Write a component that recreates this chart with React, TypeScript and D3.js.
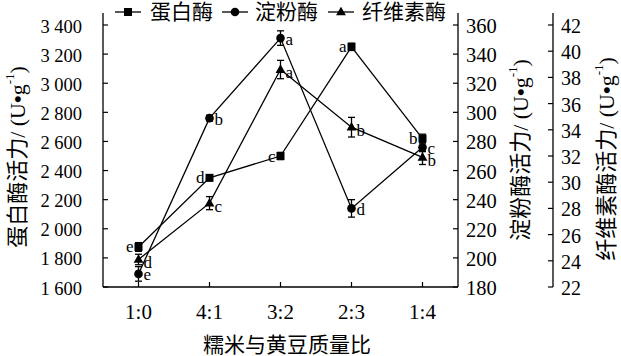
import React from "react";
import * as d3 from "d3";

const categories = ["1:0", "4:1", "3:2", "2:3", "1:4"];
const proteaseValues = [1875, 2350, 2500, 3250, 2620];
const proteaseErrors = [30, 20, 25, 25, 30];
const proteaseLetters = ["e", "d", "c", "a", "b"];
const amylaseValues = [189, 296, 351, 234, 276];
const amylaseErrors = [5, 2, 5, 6, 3];
const amylaseLetters = ["e", "b", "a", "d", "c"];
const cellulaseValues = [24.1, 28.4, 38.6, 34.2, 31.9];
const cellulaseErrors = [0.4, 0.5, 0.7, 0.75, 0.55];
const cellulaseLetters = ["d", "c", "a", "b", "b"];
const leftTicks = [1600, 1800, 2000, 2200, 2400, 2600, 2800, 3000, 3200, 3400];
const amylaseTicks = [180, 200, 220, 240, 260, 280, 300, 320, 340, 360];
const cellulaseTicks = [22, 24, 26, 28, 30, 32, 34, 36, 38, 40, 42];
const seriesNames = ["蛋白酶", "淀粉酶", "纤维素酶"];
const xTitle = "糯米与黄豆质量比";
const yTitles = ["蛋白酶活力", "淀粉酶活力", "纤维素酶活力"];

const FONT = "'Liberation Serif', 'Noto Sans CJK SC', serif";
const TOP = 13, BOTTOM = 287, LEFT = 103, RIGHT = 458, THIRD = 553;

const x = d3.scaleBand<string>().domain(categories).range([LEFT, RIGHT]).padding(0);
const cx = (c: string) => (x(c) as number) + x.bandwidth() / 2;
const yL = d3.scaleLinear().domain([1600, 3400]).range([BOTTOM, 25]);
const yS = d3.scaleLinear().domain([180, 360]).range([BOTTOM, 25]);
const yC = d3.scaleLinear().domain([22, 42]).range([BOTTOM, 25]);

const fmtLeft = (v: number) => d3.format(",")(v).replace(",", " ");

function Marker({ type, px, py }: { type: string; px: number; py: number }) {
  if (type === "square") return <rect x={px - 4} y={py - 4} width={8} height={8} fill="#000" />;
  if (type === "circle") return <circle cx={px} cy={py} r={4.3} fill="#000" />;
  const tri = d3.symbol().type(d3.symbolTriangle).size(42)();
  return <path d={tri as string} transform={`translate(${px},${py + 0.5})`} fill="#000" />;
}

function Series({ values, errors, letters, y, type, anchor, dx, dy }: any) {
  const line = d3.line<number>().x((_, i) => cx(categories[i])).y((v) => y(v));
  return (
    <g>
      <path d={line(values) as string} fill="none" stroke="#000" strokeWidth={1.3} />
      {values.map((v: number, i: number) => {
        const px = cx(categories[i]);
        const top = y(v + errors[i]);
        const bot = y(v - errors[i]);
        return (
          <g key={i}>
            <line x1={px} x2={px} y1={top} y2={bot} stroke="#000" strokeWidth={1.3} />
            <line x1={px - 3.5} x2={px + 3.5} y1={top} y2={top} stroke="#000" strokeWidth={1.3} />
            <line x1={px - 3.5} x2={px + 3.5} y1={bot} y2={bot} stroke="#000" strokeWidth={1.3} />
            <Marker type={type} px={px} py={y(v)} />
            <text x={px + dx} y={y(v) + dy} textAnchor={anchor} dominantBaseline="central"
              fontFamily={FONT} fontSize={17}>{letters[i]}</text>
          </g>
        );
      })}
    </g>
  );
}

function YTitle({ label, tx, ty }: { label: string; tx: number; ty: number }) {
  return (
    <text transform={`translate(${tx},${ty}) rotate(-90)`} textAnchor="middle" dominantBaseline="central"
      fontFamily={FONT} fontSize={22}>
      <tspan>{label}/ (U</tspan>
      <tspan fontWeight="bold">•</tspan>
      <tspan>g</tspan>
      <tspan dy={-8} fontSize={13}>-1</tspan>
      <tspan dy={8}>)</tspan>
    </text>
  );
}

export default function App() {
  const legend = [
    { type: "square", lx: 115, tx: 150 },
    { type: "circle", lx: 222, tx: 255 },
    { type: "triangle", lx: 328, tx: 362 },
  ];
  return (
    <svg width={621} height={356} style={{ position: "absolute", left: 0, top: 0, background: "#fff" }}>
      <rect width={621} height={356} fill="#fff" />
      <line x1={LEFT} x2={LEFT} y1={TOP} y2={BOTTOM} stroke="#000" strokeWidth={1.3} />
      <line x1={LEFT} x2={RIGHT} y1={BOTTOM} y2={BOTTOM} stroke="#000" strokeWidth={1.3} />
      <line x1={RIGHT} x2={RIGHT} y1={TOP} y2={BOTTOM} stroke="#000" strokeWidth={1.3} />
      <line x1={THIRD} x2={THIRD} y1={TOP} y2={BOTTOM} stroke="#000" strokeWidth={1.3} />
      {leftTicks.map((t) => (
        <g key={"l" + t}>
          <line x1={LEFT} x2={LEFT + 5} y1={yL(t)} y2={yL(t)} stroke="#000" strokeWidth={1.2} />
          <text x={82} y={yL(t) + 1.5} textAnchor="end" dominantBaseline="central" fontFamily={FONT} fontSize={18.5}>
            {fmtLeft(t)}
          </text>
        </g>
      ))}
      {amylaseTicks.map((t) => (
        <g key={"s" + t}>
          <line x1={RIGHT - 5} x2={RIGHT} y1={yS(t)} y2={yS(t)} stroke="#000" strokeWidth={1.2} />
          <text x={466} y={yS(t) + 1} textAnchor="start" dominantBaseline="central" fontFamily={FONT} fontSize={20.5}>
            {t}
          </text>
        </g>
      ))}
      {cellulaseTicks.map((t) => (
        <g key={"c" + t}>
          <line x1={THIRD - 5} x2={THIRD} y1={yC(t)} y2={yC(t)} stroke="#000" strokeWidth={1.2} />
          <text x={561} y={yC(t) + 1} textAnchor="start" dominantBaseline="central" fontFamily={FONT} fontSize={20}>
            {t}
          </text>
        </g>
      ))}
      {categories.map((c) => (
        <g key={c}>
          <line x1={cx(c)} x2={cx(c)} y1={BOTTOM} y2={BOTTOM - 5} stroke="#000" strokeWidth={1.2} />
          <text x={cx(c)} y={312} textAnchor="middle" dominantBaseline="central" fontFamily={FONT} fontSize={21}>
            {c}
          </text>
        </g>
      ))}
      <text x={287} y={345} textAnchor="middle" dominantBaseline="central" fontFamily={FONT} fontSize={21}>
        {xTitle}
      </text>
      <YTitle label={yTitles[0]} tx={17} ty={157} />
      <YTitle label={yTitles[1]} tx={520} ty={150} />
      <YTitle label={yTitles[2]} tx={606} ty={159} />

      <Series values={proteaseValues} errors={proteaseErrors} letters={proteaseLetters} y={yL}
        type="square" anchor="end" dx={-5} dy={0} />
      <Series values={amylaseValues} errors={amylaseErrors} letters={amylaseLetters} y={yS}
        type="circle" anchor="start" dx={5} dy={1} />
      <Series values={cellulaseValues} errors={cellulaseErrors} letters={cellulaseLetters} y={yC}
        type="triangle" anchor="start" dx={5} dy={3} />

      {legend.map((l, i) => (
        <g key={i}>
          <line x1={l.lx} x2={l.lx + 26} y1={12} y2={12} stroke="#000" strokeWidth={1.3} />
          <Marker type={l.type} px={l.lx + 13} py={12} />
          <text x={l.tx} y={12} dominantBaseline="central" fontFamily={FONT} fontSize={21}>
            {seriesNames[i]}
          </text>
        </g>
      ))}
    </svg>
  );
}
